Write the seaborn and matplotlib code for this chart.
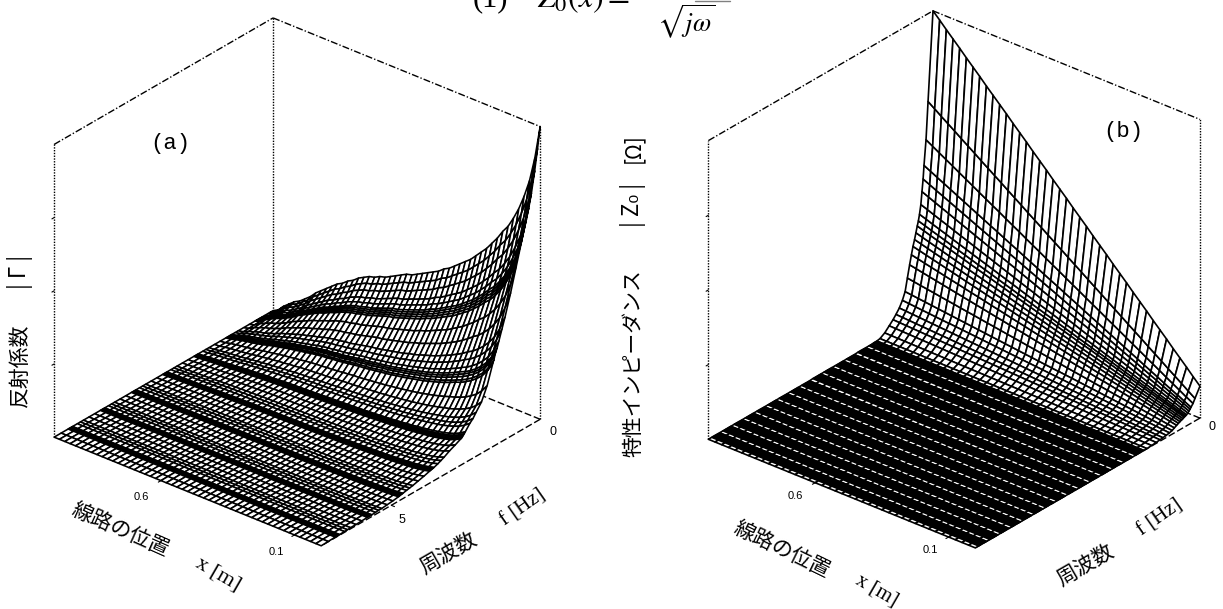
#!/usr/bin/env python
import matplotlib
matplotlib.use("Agg")
import matplotlib.pyplot as plt
import numpy as np
import seaborn as sns

W, H = 1223, 609
AX_PX = 640
BOX_ZOOM = 574 / AX_PX

# position along the line, 0 at the near corner, 1 at the far one
x_a = [
    0.00, 0.02, 0.04, 0.06, 0.08, 0.10, 0.12, 0.14, 0.16, 0.18, 0.20, 0.22, 0.24, 0.26, 0.28, 0.30, 0.32,
    0.34, 0.36, 0.38, 0.40, 0.42, 0.44, 0.46, 0.48, 0.50, 0.52, 0.54, 0.56, 0.58, 0.60, 0.62, 0.64, 0.66,
    0.68, 0.70, 0.72, 0.74, 0.76, 0.78, 0.80, 0.82, 0.84, 0.86, 0.88, 0.90, 0.92, 0.94, 0.96, 0.98, 1.00,
]
x_b = [
    0.000, 0.025, 0.050, 0.075, 0.100, 0.125, 0.150, 0.175, 0.200, 0.225, 0.250, 0.275, 0.300, 0.325,
    0.350, 0.375, 0.400, 0.425, 0.450, 0.475, 0.500, 0.525, 0.550, 0.575, 0.600, 0.625, 0.650, 0.675,
    0.700, 0.725, 0.750, 0.775, 0.800, 0.825, 0.850, 0.875, 0.900, 0.925, 0.950, 0.975, 1.000,
]

# (a) height along x at f=0
gamma_x = [
    1.00, 0.885, 0.80, 0.74, 0.69, 0.65, 0.615, 0.59, 0.56, 0.535, 0.51, 0.49, 0.47, 0.45, 0.435, 0.42, 0.405,
    0.39, 0.38, 0.365, 0.355, 0.345, 0.335, 0.325, 0.315, 0.31, 0.30, 0.29, 0.28, 0.27, 0.265, 0.255, 0.25, 0.24,
    0.23, 0.215, 0.205, 0.19, 0.18, 0.165, 0.15, 0.135, 0.12, 0.10, 0.085, 0.07, 0.06, 0.045, 0.03, 0.01, 0.00,
]
# (a) frequency rows (fraction of the f axis) and the falloff on each row
freq_a = [
    0.000, 0.012, 0.025, 0.040, 0.052,
    0.063, 0.068, 0.073, 0.078, 0.083, 0.109, 0.135, 0.160, 0.174, 0.188,
    0.196, 0.201, 0.206, 0.211, 0.216, 0.242, 0.268, 0.293, 0.307, 0.321,
    0.342, 0.347, 0.352, 0.357, 0.362, 0.388, 0.414, 0.439, 0.453, 0.467,
    0.485, 0.490, 0.495, 0.500, 0.505, 0.531, 0.557, 0.582, 0.596, 0.610,
    0.627, 0.632, 0.637, 0.642, 0.647, 0.673, 0.699, 0.724, 0.738, 0.752,
    0.769, 0.774, 0.779, 0.784, 0.789, 0.815, 0.841, 0.866, 0.880, 0.894,
    0.916, 0.921, 0.926, 0.931, 0.936, 0.968, 1.000,
]
gamma_f = [
    1.00, 0.93, 0.86, 0.79, 0.745,
    0.71, 0.695, 0.68, 0.665, 0.65, 0.57, 0.49, 0.42, 0.385, 0.35,
    0.33, 0.32, 0.31, 0.295, 0.285, 0.22, 0.175, 0.15, 0.135, 0.125,
    0.105, 0.10, 0.096, 0.092, 0.09, 0.08, 0.071, 0.06, 0.055, 0.05,
    0.045, 0.044, 0.043, 0.042, 0.041, 0.035, 0.03, 0.025, 0.023, 0.021,
    0.018, 0.017, 0.017, 0.016, 0.015, 0.012, 0.01, 0.008, 0.008, 0.007,
    0.006, 0.006, 0.006, 0.006, 0.006, 0.005, 0.004, 0.004, 0.003, 0.003,
    0.002, 0.002, 0.002, 0.002, 0.002, 0.001, 0.000,
]

# (b) height along x at f=0
z0_x = [
    0.107, 0.129, 0.152, 0.174, 0.196, 0.219, 0.241, 0.263, 0.286, 0.308, 0.330, 0.353, 0.375, 0.397,
    0.420, 0.442, 0.464, 0.487, 0.509, 0.531, 0.554, 0.576, 0.598, 0.621, 0.643, 0.665, 0.688, 0.710,
    0.732, 0.755, 0.777, 0.799, 0.821, 0.844, 0.866, 0.888, 0.911, 0.933, 0.955, 0.978, 1.000,
]
freq_b = [
    0.000, 0.022, 0.031, 0.040, 0.044, 0.049, 0.054, 0.060, 0.065, 0.070, 0.076, 0.082, 0.089, 0.096,
    0.104, 0.114, 0.124, 0.136, 0.150, 0.165, 0.178, 0.195, 0.215, 0.236,
    0.250, 0.257, 0.264, 0.271, 0.278, 0.285, 0.300, 0.307, 0.314, 0.321, 0.328, 0.335,
    0.350, 0.357, 0.364, 0.371, 0.378, 0.385, 0.400, 0.407, 0.414, 0.421, 0.428, 0.435,
    0.450, 0.457, 0.464, 0.471, 0.478, 0.485, 0.500, 0.507, 0.514, 0.521, 0.528, 0.535,
    0.550, 0.557, 0.564, 0.571, 0.578, 0.585, 0.600, 0.607, 0.614, 0.621, 0.628, 0.635,
    0.650, 0.657, 0.664, 0.671, 0.678, 0.685, 0.700, 0.707, 0.714, 0.721, 0.728, 0.735,
    0.750, 0.757, 0.764, 0.771, 0.778, 0.785, 0.800, 0.807, 0.814, 0.821, 0.828, 0.835,
    0.850, 0.857, 0.864, 0.871, 0.878, 0.885, 0.900, 0.907, 0.914, 0.921, 0.928, 0.935,
    0.950, 0.957, 0.964, 0.971, 0.978, 0.985, 1.000,
]
z0_f = [
    1.000, 0.706, 0.582, 0.500, 0.456, 0.416, 0.375, 0.345, 0.325, 0.310, 0.290, 0.270, 0.250, 0.225,
    0.195, 0.155, 0.114, 0.090, 0.070, 0.055, 0.043, 0.030, 0.015, 0.005,
    0.003, 0.003, 0.003, 0.002, 0.002, 0.002, 0.002, 0.002, 0.002, 0.002, 0.002, 0.002,
    0.001, 0.001, 0.001, 0.001, 0.001, 0.001, 0.001, 0.001, 0.001, 0.001, 0.001, 0.001,
    0.001, 0.001, 0.001, 0.001, 0.001, 0.001, 0.001, 0.001, 0.001, 0.001, 0.001, 0.001,
    0.000, 0.000, 0.000, 0.000, 0.000, 0.000, 0.000, 0.000, 0.000, 0.000, 0.000, 0.000,
    0.000, 0.000, 0.000, 0.000, 0.000, 0.000, 0.000, 0.000, 0.000, 0.000, 0.000, 0.000,
    0.000, 0.000, 0.000, 0.000, 0.000, 0.000, 0.000, 0.000, 0.000, 0.000, 0.000, 0.000,
    0.000, 0.000, 0.000, 0.000, 0.000, 0.000, 0.000, 0.000, 0.000, 0.000, 0.000, 0.000,
    0.000, 0.000, 0.000, 0.000, 0.000, 0.000, 0.000,
]

x_ticks = [0.1, 0.6]


def px_text(fig, x, y, s, size=13, rot=0, family=None):
    fig.text(x / W, 1 - y / H, s, fontsize=size, rotation=rot, ha="center", va="center",
             rotation_mode="anchor", color="black", family=family)


def surface_panel(fig, center, box, x_lines, freq, z_x, z_f, f_ticks, lw, scale=1.0):
    cx, cy = center
    ax = fig.add_axes([(cx - AX_PX / 2) / W, 1 - (cy + AX_PX / 2) / H, AX_PX / W, AX_PX / H],
                      projection="3d", proj_type="ortho", computed_zorder=False)
    ax.set_box_aspect(box, zoom=BOX_ZOOM * scale)
    ax.view_init(elev=29.0, azim=130.0)
    ax.set_xlim(0, 1)
    ax.set_ylim(0, 1)
    ax.set_zlim(0, 1)
    ax.set_axis_off()

    # box behind the surface
    top = dict(color="black", lw=1.0, ls=(0, (5, 1.5, 1, 1.5)), zorder=1)
    ax.plot([1, 1], [1, 0], [1, 1], **top)
    ax.plot([1, 0], [0, 0], [1, 1], **top)
    col = dict(color="black", lw=1.0, ls=(0, (1, 1)), zorder=1)
    for xc, yc in [(1, 1), (1, 0), (0, 0)]:
        ax.plot([xc, xc], [yc, yc], [0, 1], **col)
    floor = dict(color="black", lw=1.0, ls=(0, (5, 2)), zorder=1)
    ax.plot([0, 1], [0, 0], [0, 0], **floor)
    ax.plot([0, 0], [0, 1], [0, 0], **floor)

    X, F = np.meshgrid(x_lines, freq)
    Z = np.outer(z_f, z_x)
    ax.plot_surface(X, F, Z, rstride=1, cstride=1, color="white", edgecolor="black",
                    linewidth=lw, shade=False, zorder=2)

    # ticks on the near edges and the left column
    for t in x_ticks:
        ax.plot([t, t], [1, 1.012], [0, 0], color="black", lw=0.8, zorder=3)
    for t in f_ticks:
        ax.plot([0, -0.012], [t, t], [0, 0], color="black", lw=0.8, zorder=3)
    for t in [0.25, 0.5, 0.75]:
        ax.plot([1, 1], [1, 1.01], [t, t], color="black", lw=0.8, zorder=3)
    return ax


def main():
    sns.set_theme(style="white")
    plt.rcParams["font.family"] = ["Noto Sans CJK JP", "DejaVu Sans"]
    plt.rcParams["mathtext.fontset"] = "stix"

    fig = plt.figure(figsize=(W / 100, H / 100), dpi=100, facecolor="white")
    surface_panel(fig, (288.5, 290.5), (349, 341, 335), x_a, freq_a, gamma_x, gamma_f, [0.68], 1.15)
    surface_panel(fig, (945.5, 288), (349, 350, 342), x_b, freq_b, z0_x, z0_f, [], 1.2, scale=1.015)

    # formula cut by the top edge
    px_text(fig, 490, -1, "(1)", size=22, family="Liberation Serif")
    px_text(fig, 584, -1, r"$Z_0(x)=$", size=23)
    px_text(fig, 686, 22, r"$\sqrt{j\omega}$", size=19)
    fig.add_artist(plt.Line2D([695 / W, 730 / W], [1 - 0.5 / H, 1 - 0.5 / H], color="0.5", lw=1.0))

    # (a)
    px_text(fig, 170, 143, "(a)", size=16, family="Liberation Mono")
    px_text(fig, 20, 365, "反射係数", size=15, rot=90)
    px_text(fig, 20, 272, "| Γ |", size=16, rot=90)
    px_text(fig, 120, 530, "線路の位置", size=15, rot=-24)
    px_text(fig, 218, 574, "x [m]", size=16, rot=-30, family="Liberation Serif")
    px_text(fig, 448, 553, "周波数", size=15, rot=30)
    px_text(fig, 523, 508, "f [Hz]", size=15, rot=35, family="Liberation Serif")
    px_text(fig, 141, 497, "0.6", size=8, family="Liberation Sans")
    px_text(fig, 276, 552, "0.1", size=8, family="Liberation Sans")
    px_text(fig, 402, 520, "5", size=9, family="Liberation Sans")
    px_text(fig, 553, 432, "0", size=9, family="Liberation Sans")

    # (b)
    px_text(fig, 1123, 132, "(b)", size=16, family="Liberation Mono")
    px_text(fig, 633, 363, "特性インピーダンス", size=15, rot=90)
    px_text(fig, 633, 205, "| Z₀ |", size=16, rot=90)
    px_text(fig, 633, 148, "[Ω]", size=15, rot=90)
    px_text(fig, 782, 550, "線路の位置", size=15, rot=-26)
    px_text(fig, 877, 590, "x [m]", size=15, rot=-30, family="Liberation Serif")
    px_text(fig, 1085, 565, "周波数", size=15, rot=30)
    px_text(fig, 1160, 518, "f [Hz]", size=15, rot=35, family="Liberation Serif")
    px_text(fig, 795, 496, "0.6", size=8, family="Liberation Sans")
    px_text(fig, 930, 550, "0.1", size=8, family="Liberation Sans")
    px_text(fig, 1212, 427, "0", size=9, family="Liberation Sans")

    fig.savefig("out.png", dpi=100)


if __name__ == "__main__":
    main()
